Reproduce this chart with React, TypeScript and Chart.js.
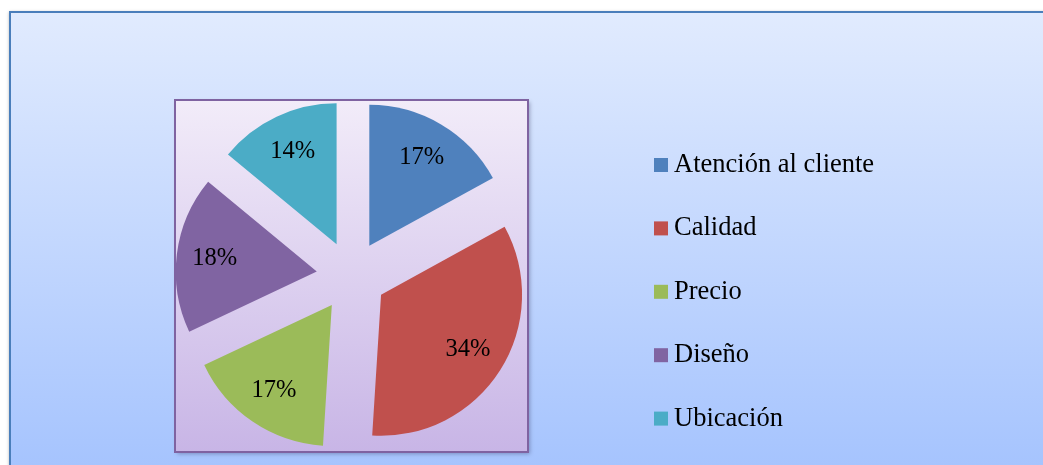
import React, { useEffect, useRef } from 'react';
import { Chart, registerables } from 'chart.js';

Chart.register(...registerables);

const categories = ['Atención al cliente', 'Calidad', 'Precio', 'Diseño', 'Ubicación'];
const shares = [17, 34, 17, 18, 14];
const sliceColors = ['#4F81BD', '#C0504D', '#9BBB59', '#8064A2', '#4BACC6'];

const SERIF = "'Liberation Serif', 'Times New Roman', Times, serif";
const EXPLODE = 35;
const RADIUS = 141;
const LABEL_POS = 0.73;

const explodePlugin = {
  id: 'explodeSlices',
  afterDatasetsUpdate(chart: any) {
    const meta = chart.getDatasetMeta(0);
    const { left, right, top, bottom } = chart.chartArea;
    const cx = (left + right) / 2;
    const cy = (top + bottom) / 2;
    meta.data.forEach((el: any) => {
      const mid = (el.startAngle + el.endAngle) / 2;
      el.x = cx + Math.cos(mid) * EXPLODE;
      el.y = cy + Math.sin(mid) * EXPLODE;
    });
  },
};

const backgroundPlugin = {
  id: 'excelBackground',
  beforeDraw(chart: any) {
    const ctx = chart.ctx as CanvasRenderingContext2D;
    const W = chart.width;
    const H = chart.height;
    const a = chart.chartArea;
    ctx.save();
    // outer chart area
    const g = ctx.createLinearGradient(0, 12, 0, H);
    g.addColorStop(0, '#E1EBFE');
    g.addColorStop(1, '#A6C4FE');
    ctx.shadowColor = 'rgba(0,0,0,0.28)';
    ctx.shadowBlur = 3;
    ctx.shadowOffsetX = -1;
    ctx.fillStyle = g;
    ctx.fillRect(10, 12, W + 20, H + 20);
    ctx.shadowColor = 'transparent';
    ctx.lineWidth = 2;
    ctx.strokeStyle = '#4A7EBB';
    ctx.strokeRect(10, 12, W + 20, H + 20);

    // plot area
    const pg = ctx.createLinearGradient(0, a.top, 0, a.bottom);
    pg.addColorStop(0, '#F2ECF9');
    pg.addColorStop(1, '#C8B5E6');
    ctx.shadowColor = 'rgba(40,40,80,0.35)';
    ctx.shadowBlur = 4;
    ctx.shadowOffsetX = 2;
    ctx.shadowOffsetY = 2;
    ctx.fillStyle = pg;
    ctx.fillRect(a.left, a.top, a.right - a.left, a.bottom - a.top);
    ctx.shadowColor = 'transparent';
    ctx.strokeStyle = '#7F63A1';
    ctx.lineWidth = 2;
    ctx.strokeRect(a.left, a.top, a.right - a.left, a.bottom - a.top);
    ctx.restore();
  },
};

const labelsPlugin = {
  id: 'sliceLabelsAndLegend',
  afterDatasetsDraw(chart: any) {
    const ctx = chart.ctx as CanvasRenderingContext2D;
    const meta = chart.getDatasetMeta(0);
    const values: number[] = chart.data.datasets[0].data;
    const total = values.reduce((s, v) => s + v, 0);
    ctx.save();
    ctx.fillStyle = '#000000';
    ctx.font = `24.5px ${SERIF}`;
    ctx.textAlign = 'center';
    ctx.textBaseline = 'middle';
    meta.data.forEach((el: any, i: number) => {
      const mid = (el.startAngle + el.endAngle) / 2;
      const r = el.outerRadius * LABEL_POS;
      const x = el.x + Math.cos(mid) * r;
      const y = el.y + Math.sin(mid) * r;
      ctx.fillText(`${Math.round((values[i] / total) * 100)}%`, x, y);
    });

    // legend
    const legendX = 654;
    const legendY = 158;
    const step = 63.4;
    const box = 14;
    ctx.font = `26.5px ${SERIF}`;
    ctx.textAlign = 'left';
    ctx.textBaseline = 'alphabetic';
    const colors: string[] = chart.data.datasets[0].backgroundColor;
    (chart.data.labels as string[]).forEach((lab, i) => {
      const y = legendY + i * step;
      ctx.fillStyle = colors[i];
      ctx.fillRect(legendX, y, box, box);
      ctx.fillStyle = '#000000';
      ctx.fillText(lab, legendX + box + 6, y + box);
    });
    ctx.restore();
  },
};

export default function App() {
  const canvasRef = useRef<HTMLCanvasElement | null>(null);

  useEffect(() => {
    document.body.style.margin = '0';
    const canvas = canvasRef.current;
    if (!canvas) return;
    const chart = new Chart(canvas, {
      type: 'pie',
      data: {
        labels: categories,
        datasets: [
          {
            data: shares,
            backgroundColor: sliceColors,
            borderWidth: 0,
            hoverOffset: 0,
          },
        ],
      },
      options: {
        responsive: false,
        animation: false,
        devicePixelRatio: 1,
        events: [],
        radius: RADIUS,
        rotation: 0,
        layout: { padding: { left: 175, right: 515, top: 100, bottom: 13 } },
        plugins: {
          legend: { display: false },
          tooltip: { enabled: false },
          title: { display: false },
        },
      } as any,
      plugins: [backgroundPlugin, explodePlugin, labelsPlugin],
    });
    return () => chart.destroy();
  }, []);

  return (
    <div style={{ position: 'fixed', left: 0, top: 0, width: 1043, height: 465 }}>
      <canvas ref={canvasRef} width={1043} height={465} style={{ width: 1043, height: 465, display: 'block' }} />
    </div>
  );
}
